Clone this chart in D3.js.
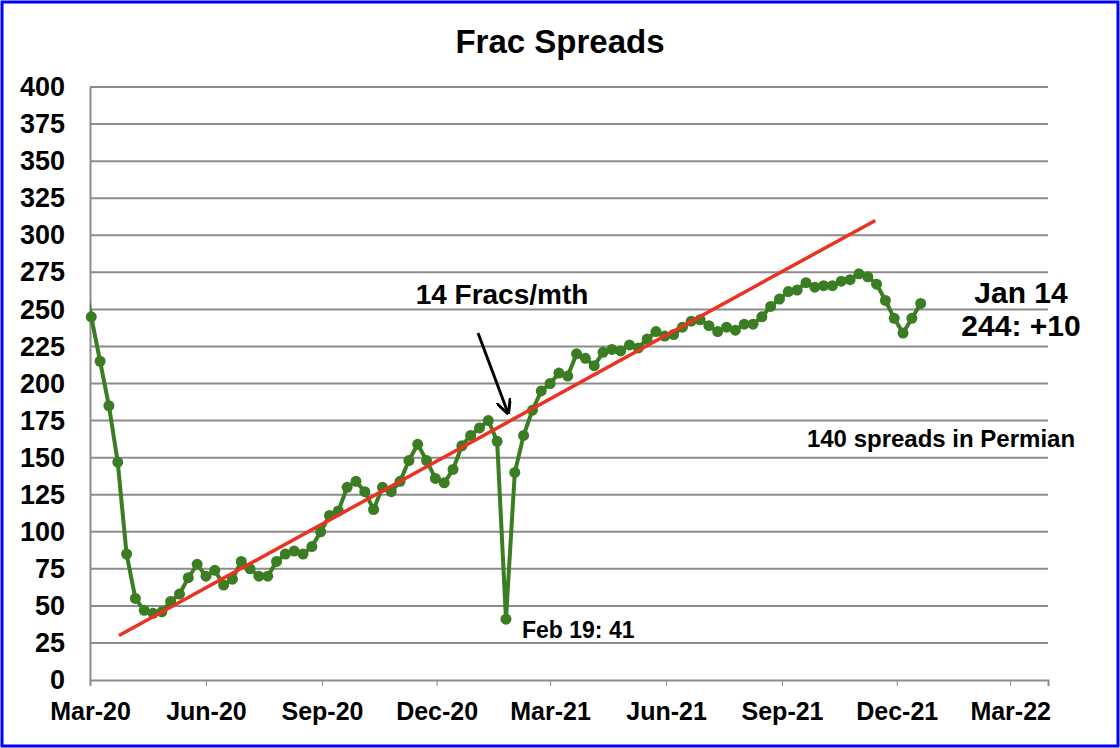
<!DOCTYPE html>
<html><head><meta charset="utf-8">
<script src="https://cdn.jsdelivr.net/npm/d3@7"></script>
<style>body{margin:0;background:#fff}svg{display:block;font-family:"Liberation Sans",Arial,sans-serif}</style>
</head><body><div id="chart"></div>
<script>
// weekly frac spread counts, first week Mar 2020
const startDate = "2020-03-02";
const spreads = [275,245,215,185,147,85,55,47,45,46,53,58,69,78,70,74,64,68,80,75,70,70,80,85,87,85,90,100,111,114,130,134,127,115,130,127,134,148,159,148,136,133,142,158,165,170,175,161,41,140,165,182,195,200,207,205,220,217,212,221,223,222,226,224,230,235,232,233,238,242,243,239,235,238,236,240,240,245,252,257,262,263,268,265,266,266,269,270,274,272,267,256,244,234,244,254];
const trendWeeks = [3.2, 88.9];
const trendValues = [30, 310];
const yTicks = d3.range(0, 401, 25);
const xTickDates = ["2020-03-01","2020-06-01","2020-09-01","2020-12-01","2021-03-01","2021-06-01","2021-09-01","2021-12-01","2022-03-01"];

const W = 1120, H = 748;
const margin = {top:87, right:72, bottom:68, left:90};
const width = W - margin.left - margin.right, height = H - margin.top - margin.bottom;
const parse = d3.timeParse("%Y-%m-%d");
const t0 = d3.timeDay.offset(parse(startDate), -7);
const data = spreads.map((v,i)=>({date:d3.timeDay.offset(t0, i*7), v}));

const svg = d3.select("#chart").append("svg").attr("width",W).attr("height",H);
svg.append("rect").attr("x",2).attr("y",2).attr("width",W-4).attr("height",H-4)
  .attr("fill","#fff").attr("stroke","#0000ff").attr("stroke-width",3);
svg.append("text").attr("x",560).attr("y",53).attr("text-anchor","middle")
  .style("font-size","33px").style("font-weight","bold").text("Frac Spreads");

const g = svg.append("g").attr("transform",`translate(${margin.left},${margin.top})`);
const x = d3.scaleTime().domain([parse("2020-03-01"), parse("2022-03-31")]).range([0,width]);
const y = d3.scaleLinear().domain([0,400]).range([height,0]);

g.append("g").selectAll("line").data(yTicks.slice(1)).join("line")
  .attr("x1",0).attr("x2",width).attr("y1",d=>y(d)).attr("y2",d=>y(d))
  .attr("stroke","#8c8c8c").attr("stroke-width",2);

const ya = g.append("g").call(d3.axisLeft(y).tickValues(yTicks).tickSize(0).tickPadding(25));
ya.select(".domain").attr("stroke","#8c8c8c").attr("stroke-width",2);
ya.selectAll("text").style("font-size","27px").style("font-weight","bold").attr("fill","#000");

const xa = g.append("g").attr("transform",`translate(0,${height})`)
  .call(d3.axisBottom(x).tickValues(xTickDates.map(parse)).tickFormat(d3.timeFormat("%b-%y")).tickSize(6).tickPadding(16));
xa.select(".domain").attr("stroke","#8c8c8c").attr("stroke-width",2);
xa.selectAll("line").attr("stroke","#8c8c8c");
xa.selectAll("text").style("font-size","25px").style("font-weight","bold").attr("fill","#000");

g.append("clipPath").attr("id","clip").append("rect").attr("width",width).attr("height",height);
const line = d3.line().x(d=>x(d.date)).y(d=>y(d.v));
g.append("path").datum(data).attr("clip-path","url(#clip)").attr("fill","none")
  .attr("stroke","#3a7d22").attr("stroke-width",4).attr("d",line);
g.append("g").selectAll("circle").data(data.slice(1)).join("circle")
  .attr("cx",d=>x(d.date)).attr("cy",d=>y(d.v)).attr("r",5.5).attr("fill","#3a7d22");

const trend = trendWeeks.map((w,i)=>({date:d3.timeDay.offset(t0,(w+1)*7), v:trendValues[i]}));
g.append("path").datum(trend).attr("fill","none").attr("stroke","#ea3323").attr("stroke-width",3.5).attr("d",line);

// annotations
svg.append("defs").append("marker").attr("id","arr").attr("viewBox","0 0 10 10").attr("refX",9).attr("refY",5)
  .attr("markerWidth",5).attr("markerHeight",5).attr("orient","auto")
  .append("path").attr("d","M0,0 L10,5 L0,10").attr("fill","none").attr("stroke","#000").attr("stroke-width",2);
svg.append("line").attr("x1",478).attr("y1",333).attr("x2",508).attr("y2",413)
  .attr("stroke","#000").attr("stroke-width",3).attr("marker-end","url(#arr)");
const ann = [
  {x:502,y:304,t:"14 Fracs/mth",s:28,a:"middle"},
  {x:522,y:638,t:"Feb 19: 41",s:23,a:"start"},
  {x:1021,y:303,t:"Jan 14",s:30,a:"middle"},
  {x:1021,y:336,t:"244: +10",s:30,a:"middle"},
  {x:941,y:447,t:"140 spreads in Permian",s:24,a:"middle"}
];
svg.append("g").selectAll("text").data(ann).join("text")
  .attr("x",d=>d.x).attr("y",d=>d.y).attr("text-anchor",d=>d.a)
  .style("font-size",d=>d.s+"px").style("font-weight","bold").text(d=>d.t);
</script></body></html>
